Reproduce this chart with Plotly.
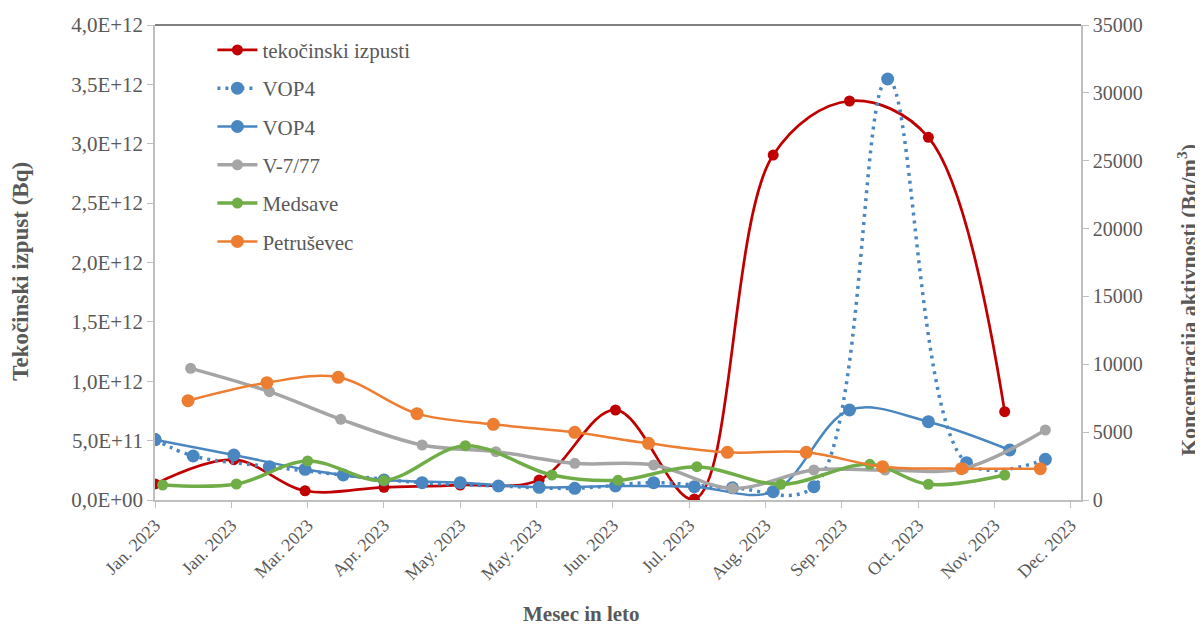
import plotly.graph_objects as go
import pandas as pd

# ---------------- data ----------------
red_dates = ["2023-01-01", "2023-02-01", "2023-03-01", "2023-04-01", "2023-05-01", "2023-06-01",
             "2023-07-01", "2023-08-01", "2023-09-01", "2023-10-01", "2023-11-01", "2023-12-01"]
red_vals = [0.135e12, 0.34e12, 0.078e12, 0.107e12, 0.126e12, 0.168e12,
            0.758e12, 0.008e12, 2.905e12, 3.36e12, 3.054e12, 0.744e12]

vop4_dot_dates = ["2023-01-01", "2023-01-16", "2023-02-15", "2023-03-16", "2023-04-16", "2023-05-16",
                  "2023-06-15", "2023-07-16", "2023-08-16", "2023-09-17", "2023-10-16", "2023-11-16",
                  "2023-12-17"]
vop4_dot_vals = [4450, 3242, 2456, 1842, 1277, 1031, 860, 1277, 900, 980, 31020, 2750, 2998]

vop4_dates = ["2023-01-01", "2023-02-01", "2023-03-01", "2023-04-01", "2023-05-01", "2023-06-01",
              "2023-07-01", "2023-08-01", "2023-09-01", "2023-10-01", "2023-11-01", "2023-12-03"]
vop4_vals = [4450, 3316, 2262, 1474, 1277, 936, 1031, 980, 612, 6631, 5770, 3684]

v777_dates = ["2023-01-15", "2023-02-15", "2023-03-15", "2023-04-16", "2023-05-15", "2023-06-15",
              "2023-07-16", "2023-08-16", "2023-09-17", "2023-10-15", "2023-11-15", "2023-12-17"]
v777_vals = [9703, 7982, 5943, 4052, 3561, 2702, 2579, 860, 2210, 2210, 2333, 5158]

medsave_dates = ["2023-01-04", "2023-02-02", "2023-03-02", "2023-04-01", "2023-05-03", "2023-06-06",
                 "2023-07-02", "2023-08-02", "2023-09-04", "2023-10-09", "2023-11-01", "2023-12-01"]
medsave_vals = [1105, 1179, 2874, 1440, 4003, 1842, 1450, 2456, 1155, 2628, 1155, 1842]

petr_dates = ["2023-01-14", "2023-02-14", "2023-03-14", "2023-04-14", "2023-05-14", "2023-06-15",
              "2023-07-14", "2023-08-14", "2023-09-14", "2023-10-14", "2023-11-14", "2023-12-15"]
petr_vals = [7318, 8645, 9038, 6361, 5576, 4985, 4175, 3512, 3512, 2456, 2309, 2309]

x_tick_text = ["Jan. 2023", "Jan. 2023", "Mar. 2023", "Apr. 2023", "May. 2023", "May. 2023",
               "Jun. 2023", "Jul. 2023", "Aug. 2023", "Sep. 2023", "Oct. 2023", "Nov. 2023", "Dec. 2023"]
y_left_vals = [0, 0.5e12, 1.0e12, 1.5e12, 2.0e12, 2.5e12, 3.0e12, 3.5e12, 4.0e12]
y_left_text = ["0,0E+00", "5,0E+11", "1,0E+12", "1,5E+12", "2,0E+12", "2,5E+12", "3,0E+12",
               "3,5E+12", "4,0E+12"]

# ---------------- styling ----------------
FONT = "Liberation Serif"
TXT = "#595959"
AX = "#BFBFBF"

x_tick_vals = pd.date_range("2023-01-01", periods=13, freq="30D")

fig = go.Figure()

def add(name, x, y, color, width, msize, yaxis, dash="solid", group=None):
    fig.add_trace(go.Scatter(
        x=x, y=y, name=name, mode="lines+markers", yaxis=yaxis,
        line=dict(color=color, width=width, shape="spline", smoothing=1.0, dash=dash),
        marker=dict(color=color, size=msize, symbol="circle"),
        legendgroup=group, cliponaxis=True,
    ))

add("tekočinski izpusti", red_dates, red_vals, "#C00000", 2.75, 11, "y", group="g1")
add("VOP4", vop4_dot_dates, vop4_dot_vals, "#4A86C0", 3.5, 13, "y2", dash="3px,5px", group="g2")
add("VOP4", vop4_dates, vop4_vals, "#4A86C0", 2.5, 13, "y2", group="g3")
add("V-7/77", v777_dates, v777_vals, "#A5A5A5", 3.5, 11, "y2", group="g4")
add("Medsave", medsave_dates, medsave_vals, "#70AD47", 3.5, 11, "y2", group="g5")
add("Petruševec", petr_dates, petr_vals, "#ED7D31", 2.5, 13, "y2", group="g6")

fig.update_layout(
    width=1195, height=620,
    margin=dict(l=147, r=122, t=17, b=128, autoexpand=False),
    paper_bgcolor="white", plot_bgcolor="white",
    font=dict(family=FONT, size=21, color=TXT),
    showlegend=True,
    legend=dict(x=0.062, y=0.99, xanchor="left", yanchor="top",
                bgcolor="rgba(255,255,255,0)", font=dict(family=FONT, size=21, color=TXT),
                tracegroupgap=8, itemwidth=40),
    xaxis=dict(type="date", range=["2023-01-01", "2023-12-31"],
               tickvals=x_tick_vals, ticktext=x_tick_text, tickangle=-45,
               showline=True, linecolor=AX, linewidth=1.5, ticks="outside", tickcolor=AX,
               ticklen=6, showgrid=False, zeroline=False,
               tickfont=dict(family=FONT, size=18, color=TXT), automargin=False),
    yaxis=dict(range=[0, 4e12], tickvals=y_left_vals, ticktext=y_left_text,
               showline=True, linecolor=AX, linewidth=1.5, ticks="outside", tickcolor=AX,
               ticklen=6, showgrid=False, zeroline=False,
               tickfont=dict(family=FONT, size=21, color=TXT), automargin=False),
    yaxis2=dict(range=[0, 35000], dtick=5000, overlaying="y", side="right",
                showline=True, linecolor=AX, linewidth=1.5, ticks="outside", tickcolor=AX,
                ticklen=6, showgrid=False, zeroline=False, tickformat="d",
                tickfont=dict(family=FONT, size=20, color=TXT), automargin=False),
    shapes=[dict(type="line", xref="paper", yref="paper", x0=0, x1=1, y0=1, y1=1,
                 line=dict(color="black", width=1))],
    annotations=[
        dict(text="<b>Tekočinski izpust (Bq)</b>", xref="paper", yref="paper",
             x=-0.146, y=0.482, xanchor="center", yanchor="middle", textangle=-90,
             showarrow=False, font=dict(family=FONT, size=23, color=TXT)),
        dict(text="<b>Koncentracija aktivnosti (Bq/m<sup>3</sup>)</b>", xref="paper", yref="paper",
             x=1.114, y=0.42, xanchor="center", yanchor="middle", textangle=-90,
             showarrow=False, font=dict(family=FONT, size=22, color=TXT)),
        dict(text="<b>Mesec in leto</b>", xref="paper", yref="paper",
             x=0.461, y=-0.24, xanchor="center", yanchor="middle",
             showarrow=False, font=dict(family=FONT, size=21, color=TXT)),
    ],
)

fig.write_html("out.html")
